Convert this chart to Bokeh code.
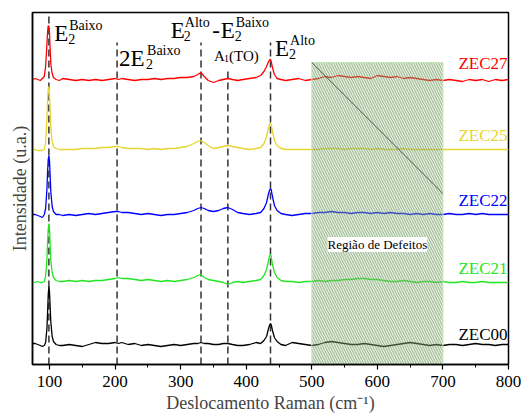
from bokeh.plotting import figure
from bokeh.models import Range1d, Label, FixedTicker
from bokeh.embed import file_html
from bokeh.resources import INLINE

# ---------------- data ----------------
raman_shift = [74, 78, 82, 86, 89, 92, 94, 96, 97, 98,
               99, 100, 101, 102, 104, 106, 110, 115, 120, 130,
               140, 150, 160, 170, 180, 190, 200, 205, 210, 220,
               230, 240, 250, 260, 270, 280, 290, 300, 310, 320,
               326, 331, 336, 342, 350, 358, 365, 372, 379, 387,
               395, 405, 415, 422, 427, 431, 434, 436, 437, 438,
               440, 443, 447, 453, 460, 470, 480, 490, 500, 510,
               520, 530, 540, 550, 560, 570, 580, 590, 600, 610,
               620, 630, 640, 650, 660, 670, 680, 690, 700, 710,
               720, 730, 740, 750, 760, 770, 780, 790, 800]

zec00 = [21, 21, 20, 19, 18, 19, 22, 36, 52, 70,
         78, 72, 56, 42, 28, 23, 20, 19, 19, 20,
         19, 18, 20, 22, 21, 21, 22, 21, 22, 20,
         21, 19, 20, 19, 18, 19, 20, 19, 20, 21,
         21, 22, 21, 21, 20, 20, 21, 21, 20, 19,
         19, 20, 22, 21, 24, 28, 36, 40, 41, 40,
         34, 27, 23, 20, 19, 22, 21, 20, 19, 20,
         22, 23, 22, 21, 20, 20, 21, 20, 19, 18,
         19, 20, 21, 22, 21, 20, 19, 20, 19, 20,
         20, 19, 20, 21, 20, 20, 19, 20, 20]

zec21 = [83, 82, 83, 82, 82, 83, 88, 105, 122, 136,
         141, 135, 118, 104, 92, 87, 84, 83, 83, 84,
         83, 84, 83, 84, 84, 85, 86, 87, 86, 86,
         85, 84, 85, 84, 83, 84, 83, 84, 85, 87,
         89, 90, 87, 85, 84, 83, 82, 80, 82, 83,
         82, 83, 84, 85, 89, 95, 104, 109, 110, 108,
         100, 92, 87, 84, 83, 83, 82, 83, 83, 84,
         83, 84, 84, 85, 85, 86, 86, 85, 85, 84,
         83, 83, 84, 83, 82, 83, 83, 82, 83, 82,
         82, 83, 82, 82, 83, 82, 82, 82, 82]

zec22 = [150, 150, 149, 148, 147, 150, 156, 175, 193, 205,
         209, 203, 187, 172, 158, 153, 150, 150, 149, 150,
         149, 150, 151, 150, 151, 152, 153, 153, 152, 152,
         151, 150, 151, 150, 149, 150, 150, 151, 152, 154,
         156, 157, 156, 154, 153, 154, 156, 157, 155, 152,
         151, 150, 151, 152, 156, 162, 171, 175, 176, 175,
         168, 159, 154, 151, 150, 149, 150, 151, 151, 152,
         152, 153, 152, 152, 151, 152, 152, 151, 152, 151,
         152, 151, 151, 150, 151, 150, 151, 150, 150, 151,
         150, 150, 151, 150, 151, 150, 150, 150, 150]

zec25 = [215, 215, 214, 214, 214, 215, 222, 245, 265, 276,
         278, 270, 252, 236, 223, 218, 216, 215, 215, 215,
         215, 216, 216, 216, 217, 217, 218, 218, 217, 216,
         216, 216, 215, 216, 215, 216, 216, 217, 218, 221,
         223, 224, 222, 219, 216, 217, 218, 219, 218, 217,
         216, 215, 216, 217, 221, 228, 237, 241, 241, 240,
         233, 224, 219, 216, 215, 215, 215, 215, 215, 215,
         216, 216, 216, 215, 216, 216, 216, 215, 216, 215,
         215, 215, 216, 215, 215, 215, 215, 215, 215, 215,
         215, 215, 215, 215, 215, 215, 215, 215, 215]

zec27 = [285, 286, 285, 284, 286, 288, 298, 320, 333, 339,
         338, 330, 314, 300, 291, 287, 285, 284, 286, 285,
         284, 285, 284, 285, 284, 285, 286, 285, 286, 285,
         284, 285, 285, 286, 285, 286, 286, 287, 287, 288,
         290, 292, 288, 284, 282, 284, 285, 286, 285, 284,
         285, 286, 287, 289, 293, 298, 303, 305, 305, 303,
         297, 290, 286, 285, 284, 285, 286, 284, 285, 286,
         288, 287, 289, 288, 287, 288, 287, 286, 289, 288,
         287, 288, 286, 287, 286, 285, 284, 285, 284, 285,
         284, 283, 285, 284, 285, 283, 285, 284, 285]

series_names = ["ZEC00", "ZEC21", "ZEC22", "ZEC25", "ZEC27"]
series_values = [zec00, zec21, zec22, zec25, zec27]
series_colors = ["#000000", "#22E622", "#0000FF", "#E6D52E", "#FF0000"]
label_levels = [30, 96, 164, 229, 301]

mode_positions = [99, 203, 331, 372, 437]
mode_tops = [349, 322, 322, 297, 322]

defect_region = [500, 700]
defect_top = 302
artifact_x = [500, 700]
artifact_y = [302, 171]

x_ticks = [100, 200, 300, 400, 500, 600, 700, 800]
x_minor = [150, 250, 350, 450, 550, 650, 750]

SERIF = "Liberation Serif"

# ---------------- figure ----------------
p = figure(frame_width=476, frame_height=352, output_backend="svg", toolbar_location=None,
           x_range=Range1d(74, 800), y_range=Range1d(0, 352),
           min_border_left=32, min_border_right=18, min_border_top=12,
           min_border_bottom=52)
p.grid.visible = False
p.background_fill_color = "white"
p.outline_line_color = "black"
p.outline_line_width = 1.5

# x axis
p.xaxis.ticker = FixedTicker(ticks=x_ticks, minor_ticks=x_minor)
p.xaxis.major_tick_out = 5
p.xaxis.major_tick_in = 0
p.xaxis.minor_tick_out = 3
p.xaxis.minor_tick_in = 0
p.xaxis.major_label_text_font = SERIF
p.xaxis.major_label_text_font_size = "17px"
p.xaxis.major_label_text_color = "black"
p.xaxis.major_label_standoff = 6
p.xaxis.axis_label = "Deslocamento Raman (cm\u207b\u00b9)"
p.xaxis.axis_label_text_font = SERIF
p.xaxis.axis_label_text_font_size = "18px"
p.xaxis.axis_label_text_font_style = "normal"
p.xaxis.axis_label_standoff = 3
p.xaxis.axis_line_width = 1.5
p.xaxis.major_tick_line_width = 1.2

# y axis (no ticks)
p.yaxis.ticker = FixedTicker(ticks=[])
p.yaxis.major_tick_out = 0
p.yaxis.minor_tick_out = 0
p.yaxis.major_label_standoff = 0
p.yaxis.axis_label = "Intensidade (u.a.)"
p.yaxis.axis_label_text_font = SERIF
p.yaxis.axis_label_text_font_size = "18px"
p.yaxis.axis_label_text_font_style = "normal"
p.yaxis.axis_label_standoff = 3
p.yaxis.major_label_text_font_size = "0px"
p.yaxis.axis_line_width = 1.5

# vertical dashed mode lines
p.segment(x0=mode_positions, y0=[0] * len(mode_positions),
          x1=mode_positions, y1=mode_tops,
          line_color="#333333", line_width=1.5, line_dash="7 4")

# spectra
for name, vals, col in zip(series_names, series_values, series_colors):
    p.line(raman_shift, vals, line_color=col, line_width=1.3)

# defect region (drawn over the lines, translucent + hatched)
p.quad(left=[defect_region[0]], right=[defect_region[1]], bottom=[0], top=[defect_top],
       fill_color="#a6dd90", fill_alpha=0.35, line_color="#c2e9b4", line_width=1,
       hatch_pattern="\\", hatch_color="#4a574a", hatch_alpha=0.75,
       hatch_scale=5, hatch_weight=0.6)
p.line(artifact_x, artifact_y, line_color="#505a50", line_width=1)

p.add_layout(Label(x=0.5 * (defect_region[0] + defect_region[1]), y=120,
                   text="Região de Defeitos", text_font=SERIF, text_font_size="13px",
                   text_color="black", text_align="center", text_baseline="middle",
                   background_fill_color="white", background_fill_alpha=1.0))

# series labels
for name, lvl, col in zip(series_names, label_levels, series_colors):
    p.add_layout(Label(x=800, y=lvl, x_offset=-1, text=name, text_font=SERIF,
                       text_font_size="17px", text_color=col, text_align="right",
                       text_baseline="middle"))

# ---------------- mode annotations ----------------
def lab(x, y, text, size, dx=0, dy=0):
    p.add_layout(Label(x=x, y=y, x_offset=dx, y_offset=dy, text=text,
                       text_font=SERIF, text_font_size=size, text_color="black",
                       text_align="left", text_baseline="alphabetic"))

def mode_label(x, y, base, base_w, sub, sup, size="23px", ssize="14px", sub_dy=-5, sup_dy=8):
    lab(x, y, base, size)
    lab(x, y, sub, ssize, dx=base_w, dy=sub_dy)
    if sup:
        lab(x, y, sup, ssize, dx=base_w + 1, dy=sup_dy)

# E2 low
mode_label(107, 331, "E", 14, "2", "Baixo")
# 2E2 low
mode_label(206, 306, "2E", 27, "2", "Baixo")
# E2 high - E2 low
mode_label(285, 334, "E", 13, "2", "Alto")
lab(348, 334, "-", "23px")
mode_label(361, 334, "E", 14, "2", "Baixo")
# A1(TO)
lab(351, 309, "A", "15px")
lab(351, 309, "1", "10px", dx=10, dy=-3)
lab(351, 309, "(TO)", "15px", dx=15)
# E2 high
mode_label(444, 316, "E", 14, "2", "Alto")

open("out.html", "w").write(file_html(p, INLINE))
